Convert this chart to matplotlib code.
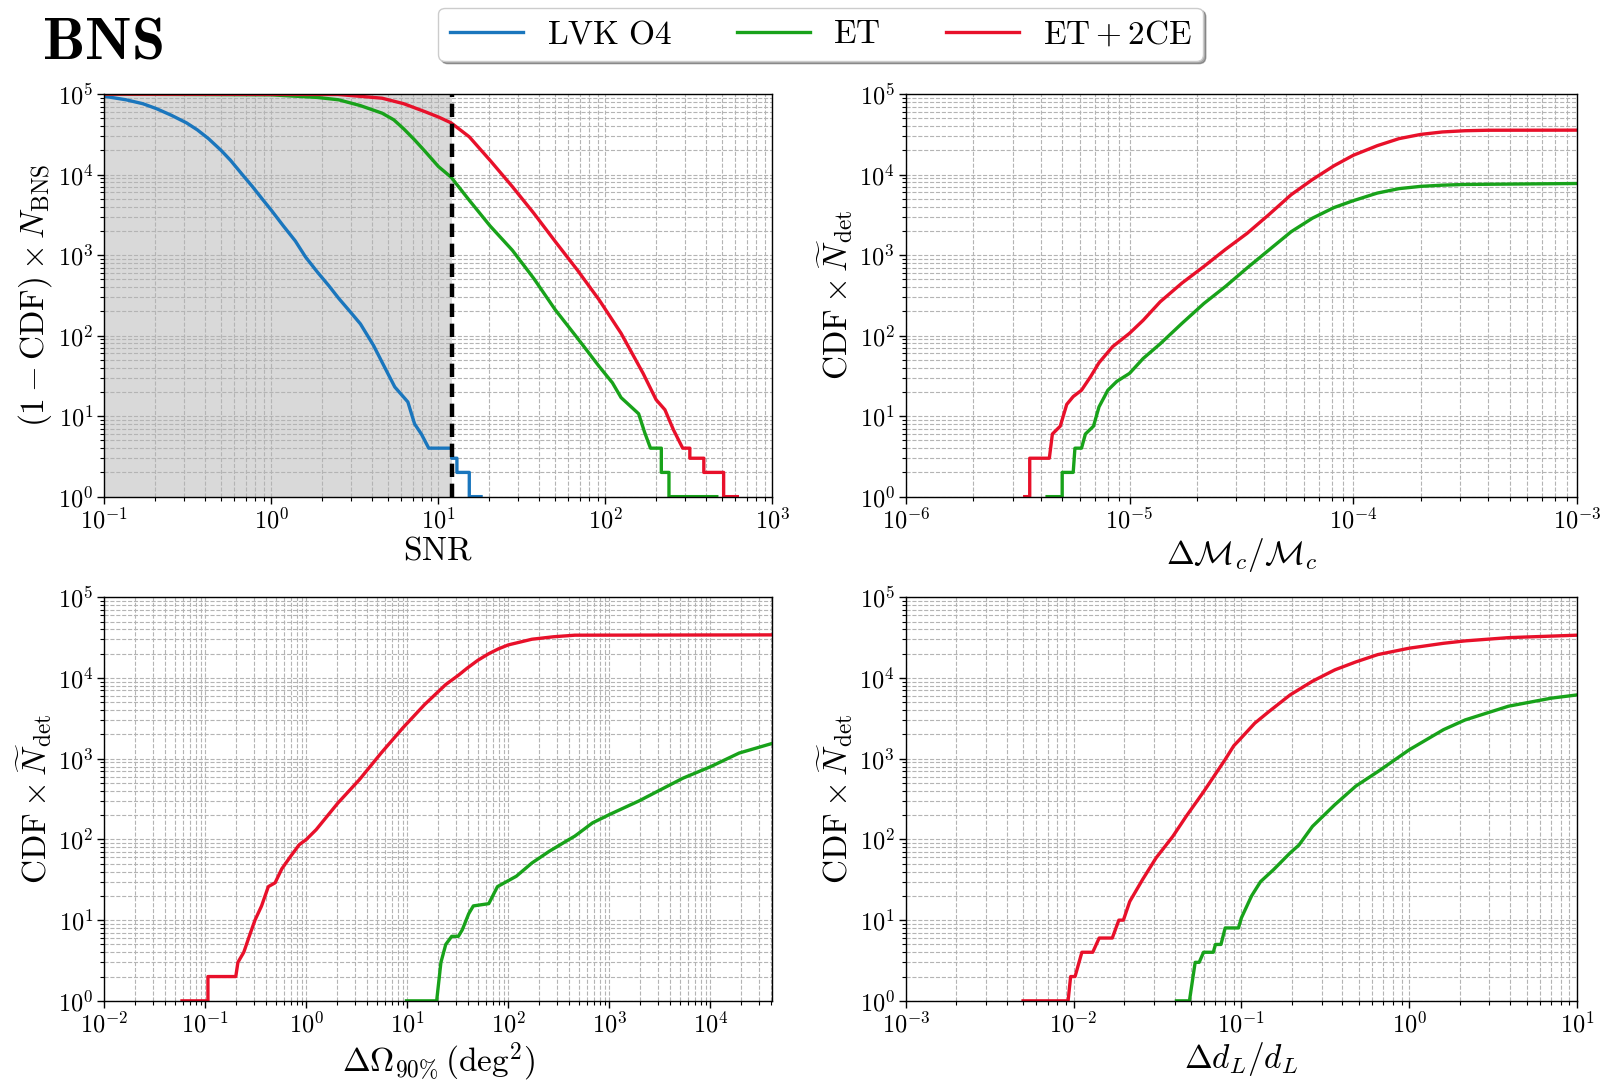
import numpy as np
import matplotlib
matplotlib.use("Agg")
import matplotlib.pyplot as plt
from matplotlib.ticker import LogLocator, NullFormatter

plt.rcParams['mathtext.fontset'] = 'cm'
plt.rcParams['font.family'] = 'serif'
plt.rcParams['font.serif'] = ['cmr10', 'DejaVu Serif']
plt.rcParams['axes.unicode_minus'] = False
plt.rcParams['axes.formatter.use_mathtext'] = True

# ---------------- data ----------------
labels = ["LVK O4", "ET", "ET + 2CE"]
legend_tex = [r'$\mathrm{LVK\ O4}$', r'$\mathrm{ET}$', r'$\mathrm{ET} + 2\mathrm{CE}$']
colors = ['#1a76bd', '#18a21a', '#e8102a']
snr_threshold = 12.0

# Panel 1: (1-CDF) x N_BNS vs SNR
snr_lvk = [0.1, 0.135, 0.17, 0.205, 0.25, 0.31, 0.36, 0.42, 0.5, 0.57, 0.67, 0.77, 0.88, 1.0,
           1.18, 1.39, 1.6, 1.88, 2.2, 2.53, 2.95, 3.41, 4.08, 4.87, 5.48, 6.56, 7.2, 7.9,
           8.75, 12.0, 12.0, 12.9, 12.9, 15.3, 15.3, 18.0]
n_lvk = [9.4e4, 8.5e4, 7.6e4, 6.6e4, 5.5e4, 4.4e4, 3.6e4, 2.8e4, 2.0e4, 1.5e4, 1.0e4, 7.1e3,
         5.0e3, 3.6e3, 2.3e3, 1.5e3, 950, 620, 420, 290, 200, 140, 76, 37, 23, 15, 8, 6, 4, 4,
         3, 3, 2, 2, 1, 1]
snr_et = [0.1, 1.0, 1.88, 2.53, 3.41, 4.6, 5.4, 6.2, 7.2, 8.4, 10.0, 11.9, 15.3, 20.4, 27.7,
          37.3, 50, 68, 92, 110, 124, 158, 172, 186, 216, 216, 240, 240, 464]
n_et = [1e5, 9.8e4, 9.1e4, 8.5e4, 7.2e4, 5.8e4, 4.8e4, 3.7e4, 2.7e4, 1.9e4, 1.26e4, 9.3e3,
        4.8e3, 2.3e3, 1.15e3, 510, 210, 93, 41, 26, 17, 10.7, 6.2, 4, 4, 2, 2, 1, 1]
snr_et2ce = [0.1, 2.5, 3.4, 4.6, 6.2, 8.4, 10.0, 11.9, 15.3, 20.4, 27.7, 37.3, 50, 68, 92,
             124, 168, 201, 227, 255, 290, 320, 320, 388, 388, 510, 510, 616]
n_et2ce = [1e5, 9.9e4, 9.4e4, 8.9e4, 7.6e4, 6.0e4, 5.2e4, 4.4e4, 2.95e4, 1.5e4, 7.1e3,
           3.3e3, 1.48e3, 650, 275, 107, 34, 16, 12, 6.8, 4, 4, 3, 3, 2, 2, 1, 1]

# Panel 2: CDF x N_det vs dMc/Mc
mc_et = [4.28e-6, 5.0e-6, 5.0e-6, 5.6e-6, 5.7e-6, 6.1e-6, 6.35e-6, 6.9e-6, 7.3e-6, 8.0e-6,
         8.77e-6, 1.0e-5, 1.15e-5, 1.37e-5, 1.71e-5, 2.15e-5, 2.68e-5, 3.35e-5, 4.18e-5,
         5.27e-5, 6.57e-5, 8.2e-5, 1.0e-4, 1.28e-4, 1.6e-4, 2.0e-4, 2.5e-4, 3.15e-4, 1.0e-3]
n_mc_et = [1, 1, 2, 2, 4, 4, 6, 7.5, 13, 21, 27, 34, 52, 79, 141, 251, 407, 692, 1148,
           1950, 2880, 3900, 4750, 5900, 6700, 7150, 7400, 7550, 7760]
mc_et2ce = [3.40e-6, 3.58e-6, 3.58e-6, 4.38e-6, 4.52e-6, 4.9e-6, 5.24e-6, 5.6e-6, 6.1e-6,
            6.7e-6, 7.3e-6, 8.4e-6, 1.0e-5, 1.15e-5, 1.37e-5, 1.71e-5, 2.15e-5, 2.68e-5,
            3.35e-5, 4.18e-5, 5.27e-5, 6.57e-5, 8.2e-5, 1.0e-4, 1.28e-4, 1.6e-4, 2.0e-4,
            2.5e-4, 3.15e-4, 4.0e-4, 1.0e-3]
n_mc_et2ce = [1, 1, 3, 3, 6, 7.5, 14, 17.5, 21, 31, 46, 73, 107, 155, 263, 447, 724, 1175,
              1862, 3160, 5620, 8700, 1.29e4, 1.74e4, 2.29e4, 2.80e4, 3.16e4, 3.39e4,
              3.51e4, 3.56e4, 3.57e4]

# Panel 3: CDF x N_det vs sky area (deg^2)
om_et = [9.8, 19.5, 21.5, 24, 27.5, 32, 35, 40.5, 45, 64, 78, 96, 120, 171, 253, 373, 456,
         680, 1000, 1990, 3270, 5380, 1.0e4, 1.93e4, 4.1253e4]
n_om_et = [1, 1, 3, 5, 6.3, 6.3, 7.6, 12, 15, 16, 26, 30, 35, 51, 71, 95, 110, 160, 203, 302,
           417, 575, 794, 1175, 1550]
om_et2ce = [0.0587, 0.106, 0.106, 0.2, 0.21, 0.24, 0.28, 0.31, 0.36, 0.42, 0.49, 0.57, 0.7,
            0.85, 1.0, 1.25, 2.05, 3.35, 5.5, 9.0, 14.8, 24, 32, 39, 50, 64, 80, 100, 171,
            280, 456, 4.1253e4]
n_om_et2ce = [1, 1, 2, 2, 3, 4, 7, 10, 15, 26, 29, 43, 62, 86, 100, 132, 282, 550, 1175,
              2400, 4680, 8300, 1.08e4, 1.32e4, 1.66e4, 2.0e4, 2.3e4, 2.57e4, 3.02e4,
              3.24e4, 3.39e4, 3.42e4]

# Panel 4: CDF x N_det vs dD_L/D_L
dl_et = [4.1e-2, 4.9e-2, 5.3e-2, 5.6e-2, 5.95e-2, 6.8e-2, 7.0e-2, 7.55e-2, 8.0e-2, 9.6e-2,
         0.1, 0.115, 0.13, 0.155, 0.195, 0.22, 0.265, 0.36, 0.48, 0.65, 1.0, 1.6, 2.15, 3.9,
         7.0, 10.0]
n_dl_et = [1, 1, 3, 3, 4, 4, 5, 5, 8, 8, 10.7, 20, 30, 42, 68, 85, 145, 269, 457, 692, 1290,
           2290, 3020, 4470, 5620, 6170]
dl_et2ce = [5.0e-3, 9.27e-3, 9.6e-3, 1.02e-2, 1.12e-2, 1.3e-2, 1.42e-2, 1.7e-2, 1.86e-2,
            1.98e-2, 2.16e-2, 2.58e-2, 3.1e-2, 3.9e-2, 4.7e-2, 5.95e-2, 8.0e-2, 0.09, 0.1,
            0.12, 0.145, 0.195, 0.265, 0.36, 0.48, 0.65, 1.0, 1.6, 2.15, 3.9, 10.0]
n_dl_et2ce = [1, 1, 2, 2, 4, 4, 6, 6, 10, 10, 17, 32, 59, 109, 195, 389, 977, 1445, 1820,
              2750, 3800, 6170, 9120, 1.26e4, 1.58e4, 1.95e4, 2.34e4, 2.69e4, 2.88e4,
              3.16e4, 3.39e4]

# ---------------- figure ----------------
fig = plt.figure(figsize=(16.06, 10.82), dpi=100)
L1, R1 = 0.065, 0.481
L2, R2 = 0.564, 0.982
T1, B1 = 0.913, 0.541
T2, B2 = 0.448, 0.075
ax1 = fig.add_axes([L1, B1, R1 - L1, T1 - B1])
ax2 = fig.add_axes([L2, B1, R2 - L2, T1 - B1])
ax3 = fig.add_axes([L1, B2, R1 - L1, T2 - B2])
ax4 = fig.add_axes([L2, B2, R2 - L2, T2 - B2])

lw = 2.4
lines = []
lines += ax1.plot(snr_lvk, n_lvk, color=colors[0], lw=lw, label=legend_tex[0])
lines += ax1.plot(snr_et, n_et, color=colors[1], lw=lw, label=legend_tex[1])
lines += ax1.plot(snr_et2ce, n_et2ce, color=colors[2], lw=lw, label=legend_tex[2])
ax1.axvspan(0.1, snr_threshold, color='#d9d9d9', zorder=0.5, lw=0)
ax1.axvline(snr_threshold, color='k', ls=(0, (3, 1.5)), lw=3.2, zorder=5)

ax2.plot(mc_et, n_mc_et, color=colors[1], lw=lw)
ax2.plot(mc_et2ce, n_mc_et2ce, color=colors[2], lw=lw)
ax3.plot(om_et, n_om_et, color=colors[1], lw=lw)
ax3.plot(om_et2ce, n_om_et2ce, color=colors[2], lw=lw)
ax4.plot(dl_et, n_dl_et, color=colors[1], lw=lw)
ax4.plot(dl_et2ce, n_dl_et2ce, color=colors[2], lw=lw)

xlims = [(0.1, 1e3), (1e-6, 1e-3), (1e-2, 4.1253e4), (1e-3, 10)]
xlabels = [r'$\mathrm{SNR}$', r'$\Delta\mathcal{M}_c/\mathcal{M}_c$',
           r'$\Delta\Omega_{90\%}\,(\mathrm{deg}^2)$', r'$\Delta d_L/d_L$']
ylab_top = r'$(1-\mathrm{CDF})\times N_{\mathrm{BNS}}$'
ylab_cdf = r'$\mathrm{CDF}\times\widetilde{N}_{\mathrm{det}}$'
ylabels = [ylab_top, ylab_cdf, ylab_cdf, ylab_cdf]

for ax, xl, xlab, ylab in zip([ax1, ax2, ax3, ax4], xlims, xlabels, ylabels):
    ax.set_xscale('log')
    ax.set_yscale('log')
    ax.set_xlim(*xl)
    ax.set_ylim(1, 1e5)
    for axis in (ax.xaxis, ax.yaxis):
        axis.set_major_locator(LogLocator(base=10, numticks=100))
        axis.set_minor_locator(LogLocator(base=10, subs=np.arange(2, 10), numticks=100))
        axis.set_minor_formatter(NullFormatter())
    ax.grid(True, which='both', ls='--', color='#b4b4b4', lw=0.8)
    ax.tick_params(which='major', labelsize=17.5, length=5, width=1, direction='out', pad=3)
    ax.tick_params(which='minor', length=3, width=0.8, direction='out')
    ax.set_xlabel(xlab, fontsize=24, labelpad=2)
    ax.set_ylabel(ylab, fontsize=24, labelpad=3)
    for s in ax.spines.values():
        s.set_linewidth(1.0)

fig.text(0.026, 0.96, r'$\mathbf{BNS}$', fontsize=43, ha='left', va='center')

fig.legend(handles=lines, labels=legend_tex, loc='upper center',
           bbox_to_anchor=(0.511, 0.993), ncol=3, fontsize=24, frameon=True,
           fancybox=True, shadow=True, columnspacing=1.95, handlelength=2.2,
           handletextpad=0.7, borderpad=0.35, borderaxespad=0.0, framealpha=1,
           edgecolor='#cccccc')

fig.savefig('out.png', dpi=100)
